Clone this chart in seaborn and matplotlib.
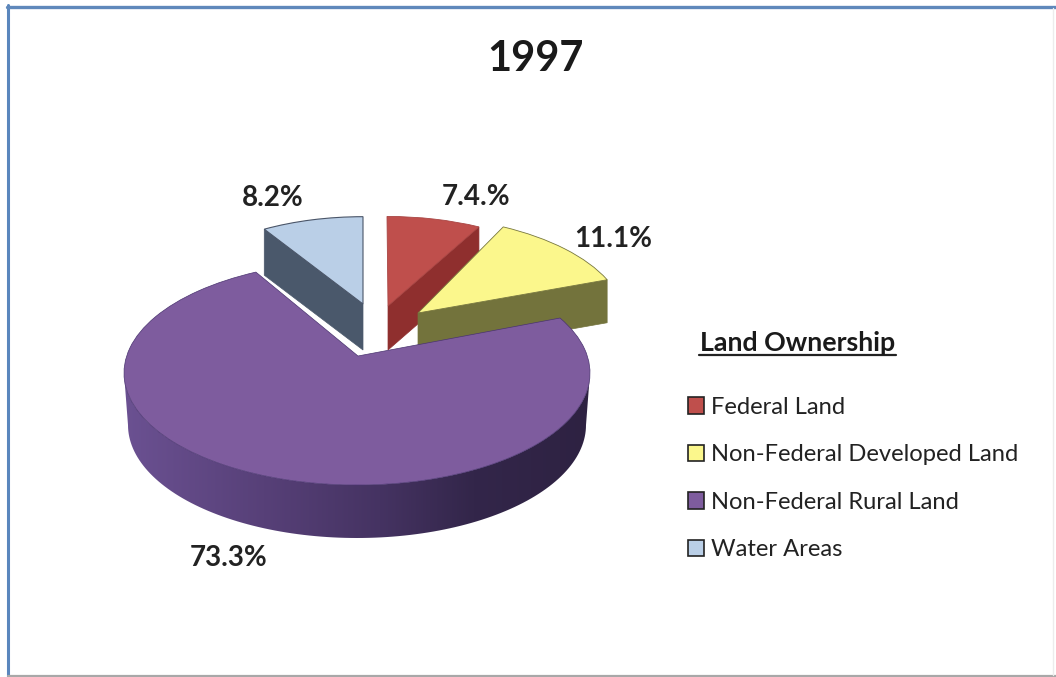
import numpy as np
import matplotlib
matplotlib.use("Agg")
import matplotlib.pyplot as plt
from matplotlib.colors import LinearSegmentedColormap
from matplotlib.lines import Line2D
from matplotlib.patches import Patch
from matplotlib.path import Path
import seaborn as sns

# ---- data -------------------------------------------------------------
title = "1997"
legend_title = "Land Ownership"
categories = ["Federal Land", "Non-Federal Developed Land", "Non-Federal Rural Land", "Water Areas"]
shares = [7.4, 11.1, 73.3, 8.2]
value_labels = ["7.4.%", "11.1%", "73.3%", "8.2%"]

# ---- styling ----------------------------------------------------------
top_colors = sns.color_palette(["#bf4f4c", "#fbf78c", "#7e5c9e", "#bacfe7"])
side_colors = sns.color_palette(["#8f2f2e", "#73733c", "#4a3668", "#4a586b"])
edge_colors = ["#a84543", "#77773e", "#4a3470", "#4a5568"]
edge_widths = [0.6, 0.6, 0.5, 0.8]
W, H = 1056, 677
CX, CY, A, B = 357, 373, 233, 112     # main ellipse, in pixels
sns.set_theme(style="white")
plt.rcParams["font.family"] = ["Lato", "DejaVu Sans"]

# per-slice view geometry (pixels): arc centre, radius factor, apex, depth, angle trims
views = [
    dict(c=(387, 315), r=0.88, apex=(388, 306), depth=44, trim=(0, 0), z=2, cut="theta1"),
    dict(c=(404, 322), r=0.95, apex=(418, 313), depth=43, trim=(0, 0), z=4, cut="theta1"),
    dict(c=(357, 373), r=1.00, apex=(358, 356), depth=52, trim=(-3.8, 6), z=6, cut=None),
    dict(c=(363, 313), r=0.86, apex=(363, 304), depth=46, trim=(0, 0), z=2, cut="theta2"),
]
label_pos = [(476, 197), (613, 239), (229, 558), (273, 198)]


def U(px, py):
    return (px - CX) / A, (CY - py) / B


fig = plt.figure(figsize=(W / 100, H / 100), dpi=100, facecolor="white")
ax = fig.add_axes([0, 0, 1, 1])

wedges, _ = ax.pie(shares, colors=top_colors, startangle=90, counterclock=False)


def arc_pt(center, r, theta):
    cx, cy = U(*center)
    return (cx + r * np.cos(np.radians(theta)),
            cy + r * np.sin(np.radians(theta)))


for w, v, ec, lw in zip(wedges, views, edge_colors, edge_widths):
    w.set_center(U(*v["c"]))
    w.set_radius(v["r"])
    w.set_theta1(w.theta1 + v["trim"][0])
    w.set_theta2(w.theta2 + v["trim"][1])
    w.set_zorder(v["z"] + 1)
    w.set_edgecolor(ec)
    w.set_linewidth(lw)
    path = w.get_path()
    verts = np.array(path.vertices)
    centre = np.array(U(*v["c"]))
    near = np.hypot(*(verts - centre).T) < 1e-6
    verts[near] = U(*v["apex"])
    w._path = Path(verts, path.codes)

# flat cut faces of the pulled-out slices
for w, v, side in zip(wedges, views, side_colors):
    if v["cut"] is None:
        continue
    end = arc_pt(v["c"], v["r"], getattr(w, v["cut"]))
    ap = U(*v["apex"])
    d = v["depth"] / B
    ax.fill([ap[0], end[0], end[0], ap[0]],
            [ap[1], end[1], end[1] - d, ap[1] - d],
            color=side, linewidth=0.5, zorder=v["z"])

# rim of the big slice, with a shaded side
thetas = np.linspace(0, -180, 121)
top_rim = np.array([arc_pt((CX, CY), 1.0, t) for t in thetas])
low_x = (229 / 233) * np.cos(np.radians(thetas))
low_y = -52 / B + (113 / B) * np.sin(np.radians(thetas))
rim_x = np.r_[top_rim[:, 0], low_x[::-1]]
rim_y = np.r_[top_rim[:, 1], low_y[::-1]]
band = ax.fill(rim_x, rim_y, facecolor="none", edgecolor="none", zorder=6)[0]
shade = LinearSegmentedColormap.from_list(
    "rim", [(0, "#6b5192"), (0.3, "#574078"), (0.55, "#453362"), (0.75, "#33264a"), (1, "#2e2242")])
xa, ya = U(124, 340)
xb, yb = U(590, 545)
im = ax.imshow(np.linspace(0, 1, 256)[None, :], cmap=shade, aspect="auto",
               extent=[xa, xb, yb, ya], zorder=6)
im.set_clip_path(band)

ax.set_aspect("auto")
ax.set_xlim(U(0, 0)[0], U(W, 0)[0])
ax.set_ylim(U(0, H)[1], U(0, 0)[1])
ax.axis("off")


def fx(px):
    return px / W


def fy(py):
    return 1 - py / H


fig.text(fx(535), fy(59), title, fontsize=30, fontweight="bold", ha="center", va="center", color="#1a1a1a")
for (px, py), lab in zip(label_pos, value_labels):
    fig.text(fx(px), fy(py), lab, fontsize=20, fontweight="bold", ha="center", va="center", color="#222222")

handles = [Patch(facecolor=c, edgecolor="#222222", linewidth=1.2) for c in top_colors]
leg = fig.legend(handles, categories, title=legend_title, loc="upper left",
                 bbox_to_anchor=(fx(688), fy(331)), frameon=False, fontsize=17.1,
                 alignment="left", borderpad=0, borderaxespad=0,
                 handlelength=0.68, handleheight=0.68, handletextpad=0.3, labelspacing=1.12,
                 labelcolor="#222222",
                 title_fontproperties={"size": 19.3, "weight": "bold"})
leg.get_title().set_color("#1a1a1a")
leg.get_title().set_position((12, 0))
leg._legend_box.sep = 30
fig.add_artist(Line2D([fx(699), fx(896)], [fy(355), fy(355)], color="#222222", lw=1.6))

# picture frame
fig.add_artist(Line2D([fx(7.5), fx(7.5)], [fy(5), fy(677)], color="#5a86bd", lw=2.2))
fig.add_artist(Line2D([fx(7), fx(1056)], [fy(6.5), fy(6.5)], color="#5f88bb", lw=2.4))
fig.add_artist(Line2D([fx(8), fx(1056)], [fy(675.5), fy(675.5)], color="#a8a8a8", lw=1.6))
fig.add_artist(Line2D([fx(1053), fx(1053)], [fy(8), fy(675)], color="#ececec", lw=1))

fig.savefig("out.png", dpi=100, facecolor="white")
